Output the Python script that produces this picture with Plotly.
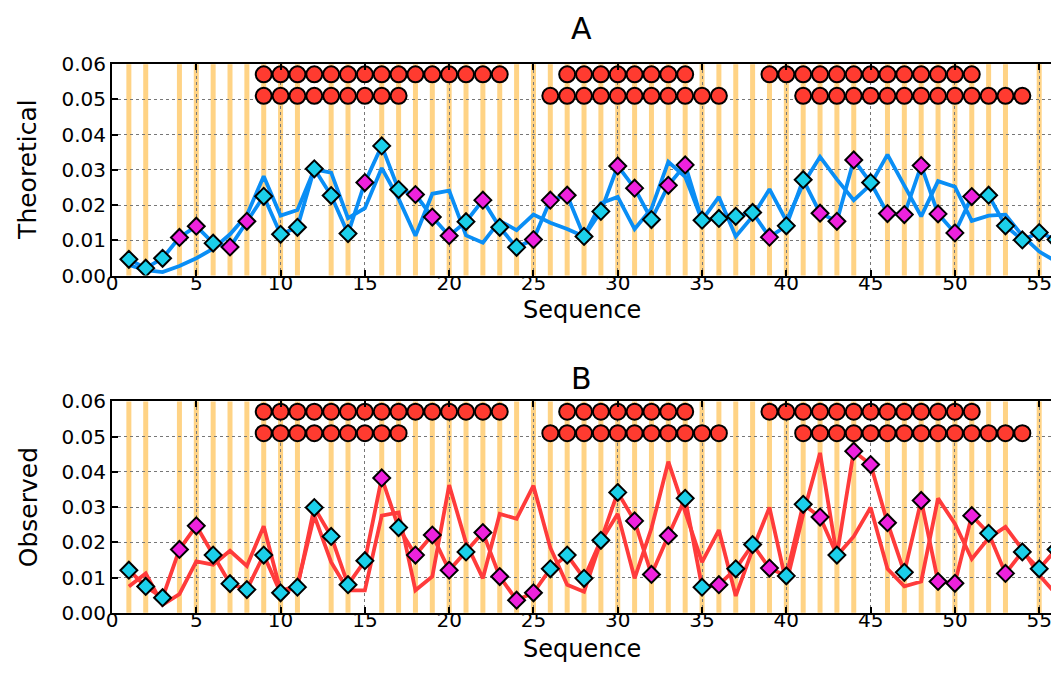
import plotly.graph_objects as go

# ---------------- data ----------------
seq = [1, 2, 3, 4, 5, 6, 7, 8, 9, 10, 11, 12, 13, 14, 15, 16, 17, 18, 19, 20,
       21, 22, 23, 24, 25, 26, 27, 28, 29, 30, 31, 32, 33, 34, 35, 36, 37, 38, 39, 40,
       41, 42, 43, 44, 45, 46, 47, 48, 49, 50, 51, 52, 53, 54, 55, 56]

theo_main = [0.0046, 0.0021, 0.0049, 0.0108, 0.0140, 0.0092, 0.0081, 0.0154, 0.0225, 0.0117,
             0.0137, 0.0303, 0.0227, 0.0119, 0.0264, 0.0368, 0.0244, 0.0230, 0.0166, 0.0113,
             0.0153, 0.0214, 0.0137, 0.0080, 0.0102, 0.0214, 0.0228, 0.0111, 0.0182, 0.0311,
             0.0248, 0.0159, 0.0256, 0.0314, 0.0157, 0.0162, 0.0168, 0.0179, 0.0109, 0.0141,
             0.0272, 0.0177, 0.0154, 0.0328, 0.0264, 0.0176, 0.0173, 0.0312, 0.0175, 0.0121,
             0.0224, 0.0228, 0.0141, 0.0101, 0.0122, 0.0102]
theo_class = ["c", "c", "c", "m", "m", "c", "m", "m", "c", "c",
              "c", "c", "c", "c", "m", "c", "c", "m", "m", "m",
              "c", "m", "c", "c", "m", "m", "m", "c", "c", "m",
              "m", "c", "m", "m", "c", "c", "c", "c", "m", "c",
              "c", "m", "m", "m", "c", "m", "m", "m", "m", "m",
              "m", "c", "c", "c", "c", "c"]
theo_alt = [0.0030, 0.0015, 0.0010, 0.0027, 0.0049, 0.0076, 0.0117, 0.0172, 0.0282, 0.0170,
            0.0186, 0.0301, 0.0292, 0.0163, 0.0191, 0.0305, 0.0218, 0.0113, 0.0232, 0.0241,
            0.0114, 0.0093, 0.0155, 0.0129, 0.0173, 0.0150, 0.0132, 0.0111, 0.0205, 0.0223,
            0.0132, 0.0190, 0.0323, 0.0280, 0.0157, 0.0223, 0.0111, 0.0168, 0.0245, 0.0155,
            0.0260, 0.0337, 0.0273, 0.0214, 0.0258, 0.0343, 0.0255, 0.0168, 0.0268, 0.0252,
            0.0155, 0.0170, 0.0173, 0.0113, 0.0068, 0.0040]

obs_main = [0.0121, 0.0075, 0.0043, 0.0180, 0.0247, 0.0164, 0.0083, 0.0066, 0.0164, 0.0057,
            0.0073, 0.0299, 0.0217, 0.0080, 0.0148, 0.0383, 0.0242, 0.0164, 0.0221, 0.0121,
            0.0173, 0.0228, 0.0103, 0.0036, 0.0057, 0.0125, 0.0164, 0.0098, 0.0206, 0.0342,
            0.0261, 0.0109, 0.0219, 0.0325, 0.0073, 0.0080, 0.0125, 0.0194, 0.0127, 0.0105,
            0.0308, 0.0272, 0.0164, 0.0459, 0.0421, 0.0256, 0.0115, 0.0319, 0.0089, 0.0084,
            0.0276, 0.0226, 0.0112, 0.0173, 0.0125, 0.0180]
obs_class = ["c", "c", "c", "m", "m", "c", "c", "c", "c", "c",
             "c", "c", "c", "c", "c", "m", "c", "m", "m", "m",
             "c", "m", "m", "m", "m", "c", "c", "c", "c", "c",
             "m", "m", "m", "c", "c", "m", "c", "c", "m", "c",
             "c", "m", "c", "m", "m", "m", "c", "m", "m", "m",
             "m", "c", "m", "c", "c", "c"]
obs_alt = [0.0075, 0.0112, 0.0023, 0.0053, 0.0146, 0.0137, 0.0176, 0.0133, 0.0246, 0.0062,
           0.0078, 0.0276, 0.0144, 0.0064, 0.0064, 0.0276, 0.0285, 0.0064, 0.0103, 0.0363,
           0.0199, 0.0098, 0.0281, 0.0267, 0.0361, 0.0185, 0.0080, 0.0060, 0.0203, 0.0281,
           0.0098, 0.0240, 0.0429, 0.0290, 0.0144, 0.0235, 0.0048, 0.0180, 0.0299, 0.0084,
           0.0280, 0.0454, 0.0162, 0.0217, 0.0299, 0.0125, 0.0075, 0.0089, 0.0325, 0.0253,
           0.0153, 0.0212, 0.0244, 0.0180, 0.0107, 0.0053]

# highlighted positions (orange bands)
highlight_pos = [1, 2, 4, 5, 6, 7, 8, 9, 10, 11, 13, 14, 16, 17, 18, 19, 20,
                 21, 22, 23, 24, 25, 26, 27, 28, 29, 30, 31, 32, 33, 34, 35, 36, 37, 38, 39, 40,
                 41, 42, 43, 44, 46, 47, 48, 49, 50, 51, 52, 53, 55]

# red circle rows
row1_pos = [9, 10, 11, 12, 13, 14, 15, 16, 17, 18, 19, 20, 21, 22, 23,
            27, 28, 29, 30, 31, 32, 33, 34,
            39, 40, 41, 42, 43, 44, 45, 46, 47, 48, 49, 50, 51]
row2_pos = [9, 10, 11, 12, 13, 14, 15, 16, 17,
            26, 27, 28, 29, 30, 31, 32, 33, 34, 35, 36,
            41, 42, 43, 44, 45, 46, 47, 48, 49, 50, 51, 52, 53, 54]
row1_level = 0.0571
row2_level = 0.0510

x_ticks = [0, 5, 10, 15, 20, 25, 30, 35, 40, 45, 50, 55]
y_ticks = [0.00, 0.01, 0.02, 0.03, 0.04, 0.05, 0.06]
y_ticklabels = ["0.00", "0.01", "0.02", "0.03", "0.04", "0.05", "0.06"]

panel_titles = ["A", "B"]
x_title = "Sequence"
y_titles = ["Theoretical", "Observed"]

# ---------------- styles ----------------
CLASS_COLOR = {"c": "#1BCFEA", "m": "#EE22DD"}
BLUE = "#0A8EF5"
RED = "#FF3B3B"
ORANGE = "#FFD385"
FONT = "DejaVu Sans"

fig = go.Figure()


def add_panel(xa, ya, main, alt, classes, line_color):
    fig.add_trace(go.Scatter(x=seq, y=alt, mode="lines", xaxis=xa, yaxis=ya,
                             line=dict(color=line_color, width=3.8), showlegend=False,
                             hoverinfo="skip"))
    fig.add_trace(go.Scatter(x=seq, y=main, mode="lines", xaxis=xa, yaxis=ya,
                             line=dict(color=line_color, width=3.8), showlegend=False,
                             hoverinfo="skip"))
    fig.add_trace(go.Scatter(x=seq, y=main, mode="markers", xaxis=xa, yaxis=ya,
                             marker=dict(symbol="diamond", size=13,
                                         color=[CLASS_COLOR[c] for c in classes],
                                         line=dict(color="black", width=2)),
                             showlegend=False))
    for pos, lvl in ((row1_pos, row1_level), (row2_pos, row2_level)):
        fig.add_trace(go.Scatter(x=pos, y=[lvl] * len(pos), mode="markers",
                                 xaxis=xa, yaxis=ya,
                                 marker=dict(symbol="circle", size=16, color="#FF3B30",
                                             line=dict(color="black", width=2)),
                                 showlegend=False))
    for p in highlight_pos:
        fig.add_shape(type="line", x0=p, x1=p, y0=0, y1=1, xref=xa, yref=ya + " domain",
                      line=dict(color=ORANGE, width=5), layer="below")


add_panel("x", "y", theo_main, theo_alt, theo_class, BLUE)
add_panel("x2", "y2", obs_main, obs_alt, obs_class, RED)

xcommon = dict(range=[0, 55.7], tickvals=x_ticks, ticks="inside", ticklen=6,
               tickcolor="black", tickwidth=1.5, showline=True, linecolor="black",
               linewidth=2, mirror="ticks", showgrid=True, gridcolor="#777777",
               griddash="dot", gridwidth=1, zeroline=False, ticklabeloverflow="allow",
               ticklabelstandoff=-12,
               tickfont=dict(family=FONT, size=20, color="black"))
ycommon = dict(range=[0, 0.06], tickvals=y_ticks, ticktext=y_ticklabels, ticks="inside",
               ticklen=6, tickcolor="black", tickwidth=1.5, showline=True,
               linecolor="black", linewidth=2, mirror=False, showgrid=True,
               gridcolor="#777777", griddash="dot", gridwidth=1, zeroline=False,
               tickfont=dict(family=FONT, size=20, color="black"))

TOP_DOM = [0.6043, 0.9217]
BOT_DOM = [0.0978, 0.4152]

ann = []
for txt, yy in zip(panel_titles, (0.9745, 0.4500)):
    ann.append(dict(text=txt, x=0.5, y=yy, xref="paper", yref="paper", showarrow=False,
                    font=dict(family=FONT, size=30, color="black"),
                    xanchor="center", yanchor="middle"))
for yy in (0.5522, 0.0435):
    ann.append(dict(text=x_title, x=0.5, y=yy, xref="paper", yref="paper", showarrow=False,
                    font=dict(family=FONT, size=24, color="black"),
                    xanchor="center", yanchor="middle", borderpad=0))
for txt, dom in zip(y_titles, (TOP_DOM, BOT_DOM)):
    ann.append(dict(text=txt, x=-0.0894, y=(dom[0] + dom[1]) / 2, xref="paper", yref="paper",
                    showarrow=False, textangle=-90,
                    font=dict(family=FONT, size=25, color="black"),
                    xanchor="center", yanchor="middle"))

fig.update_layout(
    width=1052, height=690,
    margin=dict(l=112, r=0, t=0, b=0),
    paper_bgcolor="white", plot_bgcolor="rgba(0,0,0,0)",
    xaxis=dict(xcommon, anchor="y", domain=[0, 1]),
    yaxis=dict(ycommon, anchor="x", domain=TOP_DOM),
    xaxis2=dict(xcommon, anchor="y2", domain=[0, 1]),
    yaxis2=dict(ycommon, anchor="x2", domain=BOT_DOM),
    annotations=ann,
)

fig.write_html("out.html")
